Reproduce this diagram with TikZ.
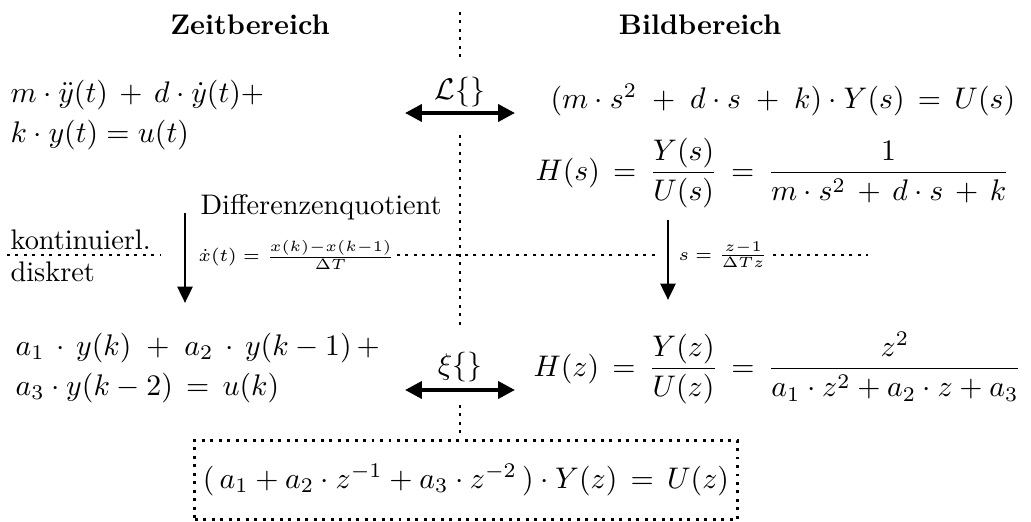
\documentclass[tikz,border=0pt]{standalone}
\usepackage{amsmath,amssymb}
\usepackage{tikz}
\usetikzlibrary{arrows.meta,positioning,calc}

\begin{document}
\begin{tikzpicture}[
  x=0.0118cm, y=-0.0118cm,
  head/.style={font=\fontsize{9.5}{11}\selectfont\bfseries, inner sep=0pt},
  eqn/.style={anchor=west, inner sep=0pt},
  lbl/.style={anchor=west, font=\fontsize{9.5}{11}\selectfont, inner sep=0pt},
  small/.style={anchor=west, font=\fontsize{6}{7}\selectfont, inner sep=0pt},
  trafo/.style={{Triangle[length=5.7pt,width=5.7pt]}-{Triangle[length=5.7pt,width=5.7pt]}, line width=1.3pt},
  discr/.style={-{Triangle[length=5.5pt,width=5pt]}, line width=1pt},
  sep/.style={line width=1pt, dash pattern=on 1pt off 1.85pt},
]
  \useasboundingbox (0,0) rectangle (1031,522);

  % headings
  \node[head] (zeit) at (250,25) {Zeitbereich};
  \node[head] (bild) at (700,25) {Bildbereich};

  % continuous
  \node[eqn] (dgl1) at (10,95) {$m\cdot\ddot y(t)\,+\,d\cdot\dot y(t)+$};
  \node[eqn] (dgl2) at (10,135) {$k\cdot y(t)=u(t)$};
  \node[eqn] (lap) at (550,100) {$(m\cdot s^2\;+\;d\cdot s\;+\;k)\cdot Y(s)\,=\,U(s)$};
  \node[eqn] (hs) at (535,173) {$H(s)\,=\,\dfrac{Y(s)}{U(s)}\,=\,\dfrac{1}{m\cdot s^2\,+\,d\cdot s\,+\,k}$};

  % discrete
  \node[eqn] (dif1) at (15,348) {$a_1\,\cdot\,y(k)\;+\;a_2\,\cdot\,y(k-1)\,+$};
  \node[eqn] (dif2) at (15,388) {$a_3\cdot y(k-2)\,=\,u(k)$};
  \node[eqn] (hz) at (533,368) {$H(z)\,=\,\dfrac{Y(z)}{U(z)}\,=\,\dfrac{z^2}{a_1\cdot z^2+a_2\cdot z+a_3}$};
  \node[draw, sep, inner sep=0pt, minimum width=6.4cm, minimum height=0.94cm] (zinv) at (466,480)
    {$(\,a_1+a_2\cdot z^{-1}+a_3\cdot z^{-2}\,)\cdot Y(z)\,=\,U(z)$};

  % transforms
  \node (L) at (460,92) {$\mathcal{L}\{\}$};
  \node (xi) at (460,367) {$\xi\{\}$};
  \coordinate (La) at (405,113);
  \coordinate (Lb) at (515,113);
  \coordinate (xa) at (405,390);
  \coordinate (xb) at (515,390);
  \draw[trafo] (La) -- (Lb);
  \draw[trafo] (xa) -- (xb);

  % separators
  \coordinate (v1) at (460,12);
  \coordinate (v2) at (460,62);
  \coordinate (v3) at (460,135);
  \coordinate (v4) at (460,330);
  \coordinate (v5) at (460,405);
  \draw[sep] (v1) -- (v2);
  \draw[sep] (v3) -- (v4);
  \draw[sep] (v5) -- (v5 |- zinv.north);
  \coordinate (h1) at (7,255);
  \coordinate (h2) at (160,255);
  \coordinate (h3) at (397,255);
  \coordinate (h4) at (657,255);
  \coordinate (h5) at (773,255);
  \coordinate (h6) at (868,255);
  \draw[sep] (h1) -- (h2);
  \draw[sep] (h3) -- (h4);
  \draw[sep] (h5) -- (h6);
  \node[lbl] (kont) at (10,240) {kontinuierl.};
  \node[lbl] (disk) at (10,272) {diskret};

  % discretisation
  \coordinate (da) at (185,213);
  \coordinate (db) at (185,303);
  \coordinate (sa) at (668,220);
  \coordinate (sb) at (668,300);
  \draw[discr] (da) -- (db);
  \draw[discr] (sa) -- (sb);
  \node[lbl] (dq) at (200,207) {Differenzenquotient};
  \node[small] (dqf) at (198,255) {$\dot x(t)=\frac{x(k)-x(k-1)}{\Delta T}$};
  \node[small] (tus) at (678,255) {$s=\frac{z-1}{\Delta T z}$};
\end{tikzpicture}
\end{document}
